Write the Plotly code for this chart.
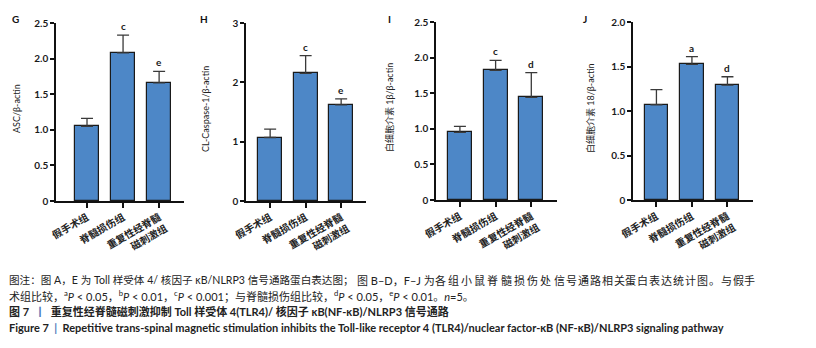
import plotly.graph_objects as go

# ---------------- data ----------------
categories = ["假手术组", "脊髓损伤组", "重复性经脊髓<br>磁刺激组"]

asc_vals = [1.05, 2.08, 1.66]
asc_err = [0.11, 0.25, 0.16]
asc_sig = ["", "c", "e"]

casp_vals = [1.07, 2.15, 1.62]
casp_err = [0.14, 0.30, 0.10]
casp_sig = ["", "c", "e"]

il1b_vals = [0.95, 1.82, 1.44]
il1b_err = [0.085, 0.14, 0.35]
il1b_sig = ["", "c", "d"]

il18_vals = [1.07, 1.525, 1.29]
il18_err = [0.17, 0.085, 0.095]
il18_sig = ["", "a", "d"]

ylabels = ["ASC/β-actin", "CL-Caspase-1/β-actin", "白细胞介素 1β/β-actin", "白细胞介素 18/β-actin"]
panel_letters = ["G", "H", "I", "J"]
ytick_vals = [[0, 0.5, 1.0, 1.5, 2.0, 2.5], [0, 1, 2, 3], [0, 0.5, 1.0, 1.5, 2.0, 2.5], [0, 0.5, 1.0, 1.5, 2.0]]
ytick_text = [["0", "0.5", "1.0", "1.5", "2.0", "2.5"], ["0", "1", "2", "3"],
              ["0", "0.5", "1.0", "1.5", "2.0", "2.5"], ["0", "0.5", "1.0", "1.5", "2.0"]]

series = [(asc_vals, asc_err, asc_sig), (casp_vals, casp_err, casp_sig),
          (il1b_vals, il1b_err, il1b_sig), (il18_vals, il18_err, il18_sig)]

# ---------------- layout geometry (window pixels) ----------------
# the page body has an 8px margin, so the figure is 808x340 and shifted
OFF = 8
W, H = 816 - OFF, 348 - OFF


def fx(px):
    return (px - OFF) / W


def fy(py):
    return 1 - (py - OFF) / H


geom = [
    dict(x0=56, x1=184, ytop=23, ybot=201, xr=(-0.86, 2.69), lx=15, ylx=16),
    dict(x0=246, x1=366, ytop=23, ybot=201, xr=(-0.68, 2.70), lx=204, ylx=205),
    dict(x0=436, x1=557, ytop=22, ybot=200, xr=(-0.67, 2.72), lx=389, ylx=389),
    dict(x0=633, x1=753, ytop=22, ybot=200, xr=(-0.66, 2.72), lx=585, ylx=590),
]

BAR = "#4d87c7"
AX = "#111111"
CJK = "Noto Sans CJK SC"
LAT = "Lato, Noto Sans CJK SC"

fig = go.Figure()
annotations = []
layout = {}

for i, ((vals, errs, sig), g) in enumerate(zip(series, geom)):
    n = "" if i == 0 else str(i + 1)
    xa, ya = "x" + n, "y" + n
    fig.add_trace(go.Bar(
        x=list(range(len(categories))), y=vals, width=0.67,
        marker=dict(color=BAR, line=dict(color="#1a1a1a", width=1.2)),
        error_y=dict(type="data", symmetric=False, array=errs, arrayminus=[0] * len(errs),
                     color="#3a3a3a", thickness=1.3, width=6),
        xaxis=xa, yaxis=ya, showlegend=False, hoverinfo="skip"))
    ymax = ytick_vals[i][-1]
    layout["xaxis" + n] = dict(
        domain=[fx(g["x0"]), fx(g["x1"])], anchor=ya, range=list(g["xr"]), automargin=False,
        tickmode="array", tickvals=list(range(len(categories))), ticktext=categories,
        tickangle=-30, tickfont=dict(family=CJK, size=10, color="#222", weight="bold"),
        showline=True, linecolor=AX, linewidth=1.6, ticks="outside", ticklen=5,
        tickwidth=1.6, tickcolor=AX, showgrid=False, zeroline=False, fixedrange=True)
    layout["yaxis" + n] = dict(
        domain=[fy(g["ybot"]), fy(g["ytop"])], anchor=xa, range=[0, ymax], automargin=False,
        tickmode="array", tickvals=ytick_vals[i], ticktext=ytick_text[i],
        tickfont=dict(family=LAT, size=10, color="#1a1a1a", weight="bold"),
        showline=True, linecolor=AX, linewidth=1.6, ticks="outside", ticklen=4,
        tickwidth=1.6, tickcolor=AX, showgrid=False, zeroline=False, fixedrange=True)
    # panel letter
    annotations.append(dict(text="<b>" + panel_letters[i] + "</b>", xref="paper", yref="paper",
                            x=fx(g["lx"]), y=fy(19), xanchor="center", yanchor="middle",
                            showarrow=False, font=dict(family=LAT, size=10, color="#111")))
    # y label
    annotations.append(dict(text=ylabels[i], xref="paper", yref="paper",
                            x=fx(g["ylx"]), y=fy((g["ytop"] + g["ybot"]) / 2 - 3),
                            xanchor="center", yanchor="middle", textangle=-90,
                            showarrow=False, font=dict(family=LAT, size=9, color="#222")))
    # significance letters
    for j, s in enumerate(sig):
        if s:
            annotations.append(dict(text=s, xref=xa, yref=ya, x=j, y=vals[j] + errs[j],
                                    xanchor="center", yanchor="bottom", yshift=1,
                                    showarrow=False,
                                    font=dict(family=LAT, size=10, color="#1a1a1a", weight="bold")))

# ---------------- caption ----------------
cap_font = dict(family=LAT, size=11, color="#222")
cap_font_a = dict(family=LAT, size=10.6, color="#222")
cap_bold = dict(family=LAT, size=11, color="#222", weight="bold")


def cap(text, x, ypix, font, anchor="left"):
    annotations.append(dict(text=text, xref="paper", yref="paper", x=fx(x), y=fy(ypix),
                            xanchor=anchor, yanchor="middle", showarrow=False, font=font))


# first caption line is justified in the reference: place it in pieces
cap("图注：图 A，E 为 Toll 样受体 4/ 核因子 κB/NLRP3 信号通路蛋白表达图；", 7, 280, cap_font_a)
cap("图 B–D，F–J 为", 355, 280, cap_font)
mid_text = "各组小鼠脊髓损伤处"
for k, ch in enumerate(mid_text):
    cap(ch, 433 + k * 13.1, 280, cap_font)
tail_text = "信号通路相关蛋白表达统计图。与假手"
for k, ch in enumerate(tail_text):
    cap(ch, 552 + k * 11.9, 280, cap_font)
cap("术组比较，<sup>a</sup><i>P</i> &lt; 0.05，<sup>b</sup><i>P</i> &lt; 0.01，<sup>c</sup><i>P</i> &lt; 0.001；"
    "与脊髓损伤组比较，<sup>d</sup><i>P</i> &lt; 0.05，<sup>e</sup><i>P</i> &lt; 0.01。<i>n</i>=5。",
    7, 295, cap_font)
cap("图 7  <span style='color:#4a78b8'>丨</span>  重复性经脊髓磁刺激抑制 Toll 样受体 4(TLR4)/ 核因子 κB(NF-κB)/NLRP3 信号通路",
    7, 311, cap_bold)
cap("Figure 7  <span style='color:#4a78b8'>|</span>  Repetitive trans-spinal magnetic stimulation inhibits the "
    "Toll-like receptor 4 (TLR4)/nuclear factor-κB (NF-κB)/NLRP3 signaling pathway",
    7, 327, cap_bold)

fig.update_layout(
    width=W, height=H, margin=dict(l=0, r=0, t=0, b=0, autoexpand=False),
    paper_bgcolor="white", plot_bgcolor="white",
    bargap=0, annotations=annotations, **layout)

fig.write_html("out.html", config={"displayModeBar": False})
